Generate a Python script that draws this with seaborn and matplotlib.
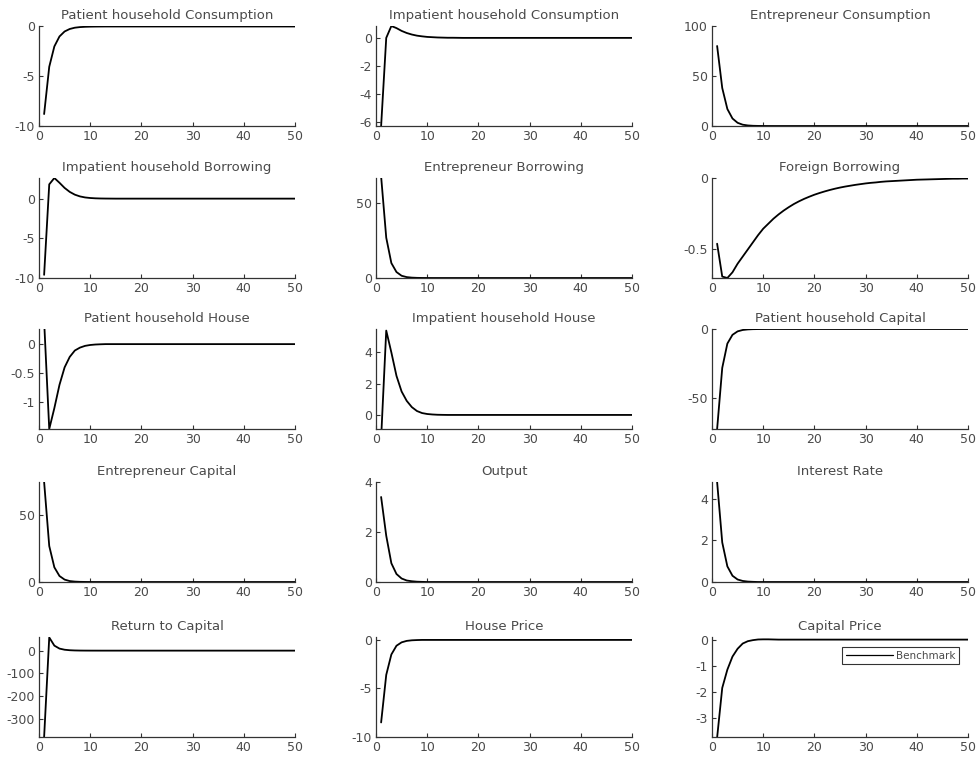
import numpy as np
import pandas as pd
import matplotlib
matplotlib.use("Agg")
import matplotlib.pyplot as plt
from matplotlib.ticker import FuncFormatter
import seaborn as sns

periods = np.arange(1, 51)

titles = [
    "Patient household Consumption", "Impatient household Consumption", "Entrepreneur Consumption",
    "Impatient household Borrowing", "Entrepreneur Borrowing", "Foreign Borrowing",
    "Patient household House", "Impatient household House", "Patient household Capital",
    "Entrepreneur Capital", "Output", "Interest Rate",
    "Return to Capital", "House Price", "Capital Price",
]

patient_consumption = [
    -8.8, -4.05, -2.0, -1.0, -0.5, -0.25, -0.12, -0.06, -0.03, -0.015,
    -0.007, -0.003, 0, 0, 0, 0, 0, 0, 0, 0,
    0, 0, 0, 0, 0, 0, 0, 0, 0, 0,
    0, 0, 0, 0, 0, 0, 0, 0, 0, 0,
    0, 0, 0, 0, 0, 0, 0, 0, 0, 0]
impatient_consumption = [
    -6.3, 0.0, 0.85, 0.7, 0.5, 0.35, 0.24, 0.16, 0.11, 0.07,
    0.05, 0.03, 0.02, 0.01, 0.01, 0.005, 0, 0, 0, 0,
    0, 0, 0, 0, 0, 0, 0, 0, 0, 0,
    0, 0, 0, 0, 0, 0, 0, 0, 0, 0,
    0, 0, 0, 0, 0, 0, 0, 0, 0, 0]
entrepreneur_consumption = [
    80, 38, 17, 7.5, 3.2, 1.3, 0.55, 0.22, 0.09, 0.04,
    0.015, 0, 0, 0, 0, 0, 0, 0, 0, 0,
    0, 0, 0, 0, 0, 0, 0, 0, 0, 0,
    0, 0, 0, 0, 0, 0, 0, 0, 0, 0,
    0, 0, 0, 0, 0, 0, 0, 0, 0, 0]
impatient_borrowing = [
    -9.6, 1.8, 2.6, 2.0, 1.35, 0.85, 0.5, 0.28, 0.15, 0.08,
    0.04, 0.02, 0.01, 0.005, 0, 0, 0, 0, 0, 0,
    0, 0, 0, 0, 0, 0, 0, 0, 0, 0,
    0, 0, 0, 0, 0, 0, 0, 0, 0, 0,
    0, 0, 0, 0, 0, 0, 0, 0, 0, 0]
entrepreneur_borrowing = [
    68, 27, 10, 4, 1.5, 0.6, 0.25, 0.1, 0.04, 0.015,
    0, 0, 0, 0, 0, 0, 0, 0, 0, 0,
    0, 0, 0, 0, 0, 0, 0, 0, 0, 0,
    0, 0, 0, 0, 0, 0, 0, 0, 0, 0,
    0, 0, 0, 0, 0, 0, 0, 0, 0, 0]
foreign_borrowing = [
    -0.46, -0.69, -0.70, -0.66, -0.60, -0.55, -0.50, -0.45, -0.40, -0.355,
    -0.32, -0.285, -0.255, -0.228, -0.204, -0.182, -0.163, -0.146, -0.131, -0.117,
    -0.105, -0.094, -0.084, -0.075, -0.067, -0.060, -0.054, -0.048, -0.043, -0.038,
    -0.034, -0.031, -0.027, -0.024, -0.022, -0.020, -0.018, -0.016, -0.014, -0.012,
    -0.011, -0.010, -0.009, -0.008, -0.007, -0.006, -0.005, -0.005, -0.004, -0.004]
patient_house = [
    0.4, -1.46, -1.1, -0.7, -0.4, -0.22, -0.11, -0.06, -0.03, -0.015,
    -0.007, -0.003, 0, 0, 0, 0, 0, 0, 0, 0,
    0, 0, 0, 0, 0, 0, 0, 0, 0, 0,
    0, 0, 0, 0, 0, 0, 0, 0, 0, 0,
    0, 0, 0, 0, 0, 0, 0, 0, 0, 0]
impatient_house = [
    -1.5, 5.4, 4.0, 2.5, 1.5, 0.9, 0.5, 0.25, 0.12, 0.06,
    0.03, 0.012, 0.005, 0, 0, 0, 0, 0, 0, 0,
    0, 0, 0, 0, 0, 0, 0, 0, 0, 0,
    0, 0, 0, 0, 0, 0, 0, 0, 0, 0,
    0, 0, 0, 0, 0, 0, 0, 0, 0, 0]
patient_capital = [
    -72, -28, -10.5, -4.2, -1.7, -0.7, -0.3, -0.12, -0.05, -0.02,
    0, 0, 0, 0, 0, 0, 0, 0, 0, 0,
    0, 0, 0, 0, 0, 0, 0, 0, 0, 0,
    0, 0, 0, 0, 0, 0, 0, 0, 0, 0,
    0, 0, 0, 0, 0, 0, 0, 0, 0, 0]
entrepreneur_capital = [
    75, 27, 11, 4.5, 1.8, 0.7, 0.3, 0.12, 0.05, 0.02,
    0, 0, 0, 0, 0, 0, 0, 0, 0, 0,
    0, 0, 0, 0, 0, 0, 0, 0, 0, 0,
    0, 0, 0, 0, 0, 0, 0, 0, 0, 0,
    0, 0, 0, 0, 0, 0, 0, 0, 0, 0]
output = [
    3.4, 1.85, 0.75, 0.32, 0.14, 0.06, 0.03, 0.012, 0.005, 0,
    0, 0, 0, 0, 0, 0, 0, 0, 0, 0,
    0, 0, 0, 0, 0, 0, 0, 0, 0, 0,
    0, 0, 0, 0, 0, 0, 0, 0, 0, 0,
    0, 0, 0, 0, 0, 0, 0, 0, 0, 0]
interest_rate = [
    4.8, 1.9, 0.75, 0.3, 0.12, 0.05, 0.02, 0.008, 0, 0,
    0, 0, 0, 0, 0, 0, 0, 0, 0, 0,
    0, 0, 0, 0, 0, 0, 0, 0, 0, 0,
    0, 0, 0, 0, 0, 0, 0, 0, 0, 0,
    0, 0, 0, 0, 0, 0, 0, 0, 0, 0]
return_to_capital = [
    -380, 58, 22, 9, 4, 1.8, 0.8, 0.35, 0.15, 0.07,
    0.03, 0, 0, 0, 0, 0, 0, 0, 0, 0,
    0, 0, 0, 0, 0, 0, 0, 0, 0, 0,
    0, 0, 0, 0, 0, 0, 0, 0, 0, 0,
    0, 0, 0, 0, 0, 0, 0, 0, 0, 0]
house_price = [
    -8.5, -3.6, -1.5, -0.6, -0.25, -0.1, -0.04, -0.015, 0, 0,
    0, 0, 0, 0, 0, 0, 0, 0, 0, 0,
    0, 0, 0, 0, 0, 0, 0, 0, 0, 0,
    0, 0, 0, 0, 0, 0, 0, 0, 0, 0,
    0, 0, 0, 0, 0, 0, 0, 0, 0, 0]
capital_price = [
    -3.75, -1.85, -1.15, -0.65, -0.35, -0.15, -0.06, -0.02, 0.005, 0.01,
    0.01, 0.005, 0, 0, 0, 0, 0, 0, 0, 0,
    0, 0, 0, 0, 0, 0, 0, 0, 0, 0,
    0, 0, 0, 0, 0, 0, 0, 0, 0, 0,
    0, 0, 0, 0, 0, 0, 0, 0, 0, 0]

series = [
    patient_consumption, impatient_consumption, entrepreneur_consumption,
    impatient_borrowing, entrepreneur_borrowing, foreign_borrowing,
    patient_house, impatient_house, patient_capital,
    entrepreneur_capital, output, interest_rate,
    return_to_capital, house_price, capital_price,
]

y_limits = [
    (-10, 0.05), (-6.3, 0.85), (0, 100),
    (-10, 2.6), (0, 67), (-0.70, 0),
    (-1.46, 0.26), (-0.9, 5.5), (-72, 0),
    (0, 75), (0, 4), (0, 4.8),
    (-380, 60), (-10, 0.3), (-3.73, 0.1),
]
y_ticks = [
    [-10, -5, 0], [-6, -4, -2, 0], [0, 50, 100],
    [-10, -5, 0], [0, 50], [-0.5, 0],
    [-1, -0.5, 0], [0, 2, 4], [-50, 0],
    [0, 50], [0, 2, 4], [0, 2, 4],
    [-300, -200, -100, 0], [-10, -5, 0], [-3, -2, -1, 0],
]
x_ticks = [0, 10, 20, 30, 40, 50]
legend_label = "Benchmark"

sns.set_style("ticks")
plt.rcParams["font.family"] = ["DejaVu Sans"]
plt.rcParams["axes.unicode_minus"] = False

fig = plt.figure(figsize=(9.77, 7.62), dpi=100)

col_left = [39 / 977, 376 / 977, 712 / 977]
ax_w = 256 / 977
row_bottom = [636 / 762, 484 / 762, 333 / 762, 180 / 762, 25 / 762]
ax_h = 100 / 762

text_col = "#4a4a4a"
fmt = FuncFormatter(lambda v, p: "{:g}".format(v))

for i, (title, vals) in enumerate(zip(titles, series)):
    r, c = divmod(i, 3)
    ax = fig.add_axes([col_left[c], row_bottom[r], ax_w, ax_h])
    df = pd.DataFrame({"period": periods, "value": vals})
    lbl = legend_label if i == 14 else None
    sns.lineplot(data=df, x="period", y="value", ax=ax, color="black",
                 linewidth=1.3, label=lbl, legend=False)
    ax.set_xlim(0, 50)
    ax.set_ylim(*y_limits[i])
    ax.set_xticks(x_ticks)
    ax.set_yticks(y_ticks[i])
    ax.xaxis.set_major_formatter(fmt)
    ax.yaxis.set_major_formatter(fmt)
    ax.set_xlabel("")
    ax.set_ylabel("")
    ax.set_title(title, fontsize=9.5, color=text_col, pad=5)
    ax.tick_params(direction="in", length=3, width=0.8, labelsize=9,
                   labelcolor=text_col, color="#333333", pad=3)
    for s in ["top", "right"]:
        ax.spines[s].set_visible(False)
    for s in ["left", "bottom"]:
        ax.spines[s].set_color("#333333")
        ax.spines[s].set_linewidth(0.9)
    if i == 14:
        leg = ax.legend(loc="upper right", bbox_to_anchor=(0.965, 0.9),
                        fontsize=7.5, frameon=True, fancybox=False,
                        handlelength=4.5, borderpad=0.35, handletextpad=0.3,
                        borderaxespad=0)
        leg.get_frame().set_edgecolor("black")
        leg.get_frame().set_linewidth(0.8)
        for t in leg.get_texts():
            t.set_color(text_col)
        for h in leg.get_lines():
            h.set_linewidth(0.9)

fig.savefig("out.png", dpi=100, facecolor="white")
